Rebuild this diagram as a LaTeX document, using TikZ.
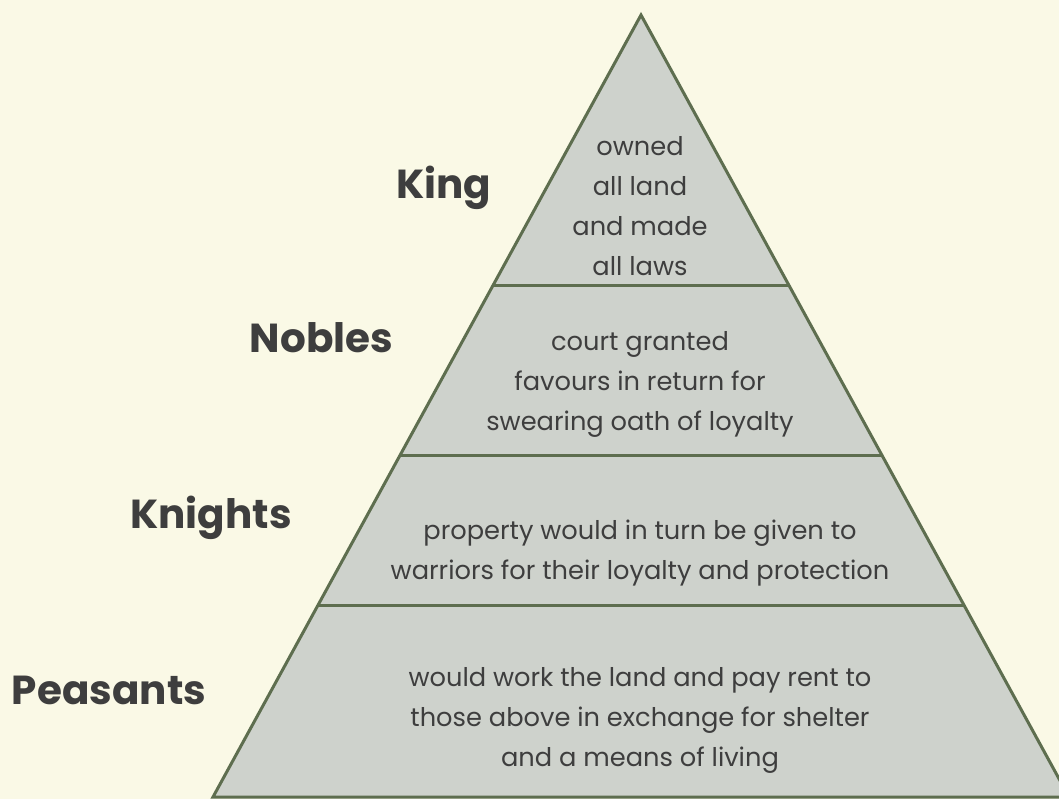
\documentclass[tikz,border=0pt]{standalone}
\usepackage{fontspec}
\setmainfont{Poppins}
\usetikzlibrary{calc}
\definecolor{bgc}{HTML}{FAF9E6}
\definecolor{fillc}{HTML}{CED2CC}
\definecolor{edgec}{HTML}{5E6E4F}
\definecolor{txtc}{HTML}{3E3E3E}
\tikzset{
  layer/.style={draw=edgec, line width=3pt, line join=miter},
  body/.style={text=txtc, align=center, font=\fontsize{25.7}{40}\selectfont, inner sep=0pt},
  rank/.style={text=txtc, font=\fontsize{40.5}{44}\selectfont\bfseries, inner sep=0pt},
}
\begin{document}
\begin{tikzpicture}[x=1pt,y=-1pt]
\useasboundingbox (0,0) rectangle (1059,799);
\clip (0,0) rectangle (1059,799);
\fill[bgc] (0,0) rectangle (1059,799);
\coordinate (apex) at (641,15);
\coordinate (bl) at (213,797);
\coordinate (br) at (1069,797);
\filldraw[layer, fill=fillc] (apex) -- (bl) -- (br) -- cycle;
\coordinate (d1l) at ($(apex)!0.3453!(bl)$);
\coordinate (d1r) at ($(apex)!0.3453!(br)$);
\coordinate (d2l) at ($(apex)!0.5639!(bl)$);
\coordinate (d2r) at ($(apex)!0.5639!(br)$);
\coordinate (d3l) at ($(apex)!0.7545!(bl)$);
\coordinate (d3r) at ($(apex)!0.7545!(br)$);
\draw[layer] (d1l) -- (d1r);
\draw[layer] (d2l) -- (d2r);
\draw[layer] (d3l) -- (d3r);
\node[body] (t1) at (640,206) {owned\\all land\\and made\\all laws};
\node[body] (t2) at (640,384) {court granted\\favours in return for\\swearing oath of loyalty};
\node[body] (t3) at (640,553) {property would in turn be given to\\warriors for their loyalty and protection};
\node[body] (t4) at (640,720) {would work the land and pay rent to\\those above in exchange for shelter\\and a means of living};
\node[rank] (king) at (443.5,188) {King};
\node[rank] (nobles) at (321.5,338) {Nobles};
\node[rank] (knights) at (211,518) {Knights};
\node[rank] (peasants) at (109,690) {Peasants};
\end{tikzpicture}
\end{document}
